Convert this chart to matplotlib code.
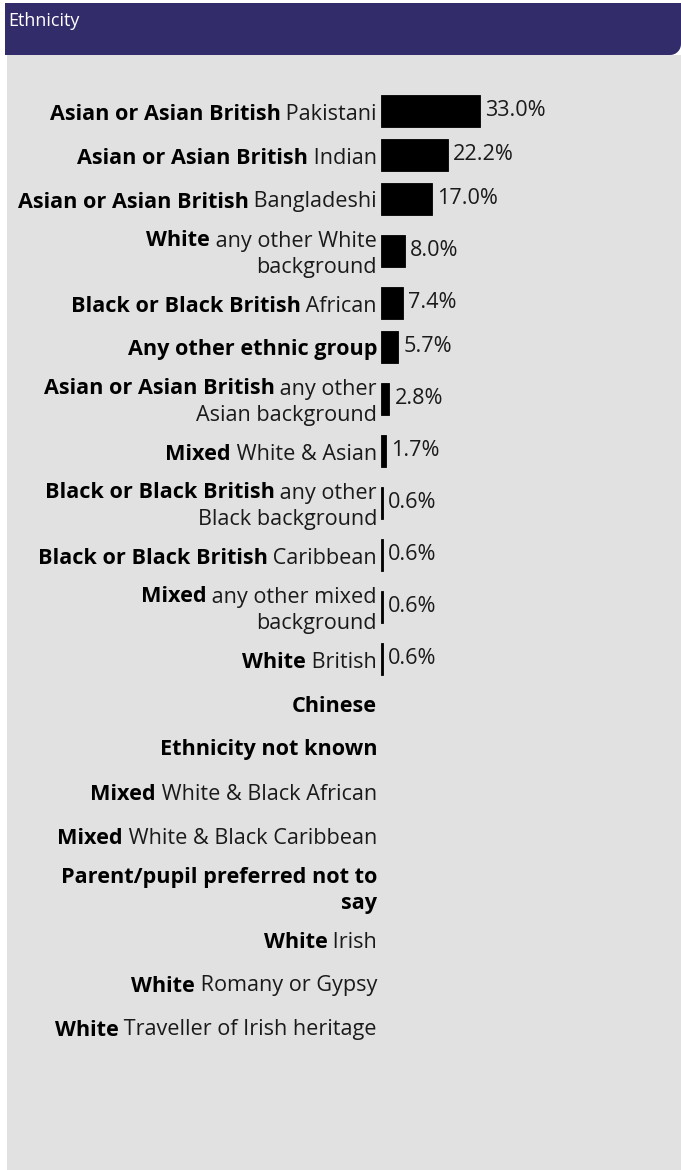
import numpy as np
import matplotlib
matplotlib.use("Agg")
import matplotlib.pyplot as plt
from matplotlib.patches import Rectangle, Polygon

plt.rcParams["font.family"] = ["Open Sans", "DejaVu Sans"]

# category labels: bold part, normal part ("\n" marks the wrap)
bold_parts = [
    "Asian or Asian British", "Asian or Asian British", "Asian or Asian British",
    "White", "Black or Black British", "Any other ethnic group",
    "Asian or Asian British", "Mixed", "Black or Black British",
    "Black or Black British", "Mixed", "White",
    "Chinese", "Ethnicity not known", "Mixed", "Mixed",
    "Parent/pupil preferred not to\nsay", "White", "White", "White",
]
normal_parts = [
    "Pakistani", "Indian", "Bangladeshi",
    "any other White\nbackground", "African", "",
    "any other\nAsian background", "White & Asian", "any other\nBlack background",
    "Caribbean", "any other mixed\nbackground", "British",
    "", "", "White & Black African", "White & Black Caribbean",
    "", "Irish", "Romany or Gypsy", "Traveller of Irish heritage",
]
values = [33.0, 22.2, 17.0, 8.0, 7.4, 5.7, 2.8, 1.7, 0.6, 0.6, 0.6, 0.6,
          None, None, None, None, None, None, None, None]

W, H = 681, 1170
fig = plt.figure(figsize=(W / 100, H / 100), dpi=100)
fig.patch.set_facecolor("white")

# background axes in pixel units
bg = fig.add_axes([0, 0, 1, 1])
bg.set_xlim(0, W)
bg.set_ylim(H, 0)
bg.axis("off")
bg.add_patch(Rectangle((6.5, 55), W, H, color="#e1e1e1", lw=0))

# header band with rounded bottom-right corner
r = 11
ang = np.linspace(0, np.pi / 2, 12)
corner = [(W - r + r * np.cos(a), 55 - r + r * np.sin(a)) for a in ang]
pts = [(5, 3), (W, 3)] + corner + [(5, 55)]
bg.add_patch(Polygon(pts, closed=True, color="#322c6b", lw=0))
bg.text(8, 21, "Ethnicity", color="white", fontsize=13, va="center", ha="left")

# bar axes: x in percent, y in pixels
left_px = 381
bx = fig.add_axes([left_px / W, 0, (W - left_px) / W, 1])
bx.set_xlim(0, (W - left_px) / 3.0)
bx.set_ylim(H, 0)
bx.axis("off")
bx.patch.set_alpha(0)

# row layout
centers = []
y = 89
for b, n in zip(bold_parts, normal_parts):
    nlines = max(b.count("\n"), n.count("\n")) + 1
    h = 44 if nlines == 1 else 60
    centers.append(y + h / 2)
    y += h

fs = 15.6
lab_x = 377
renderer = fig.canvas.get_renderer()
inv = bg.transData.inverted()

for b, n, v, c in zip(bold_parts, normal_parts, values, centers):
    if n:
        lines_n = n.split("\n")
        lines = [(b, lines_n[0])] + [("", t) for t in lines_n[1:]]
    else:
        lines = [(t, "") for t in b.split("\n")]
    k = len(lines)
    for i, (bt, nt) in enumerate(lines):
        ly = c + 3 + (i - (k - 1) / 2) * 26
        x_right = lab_x
        if nt:
            t = bg.text(lab_x, ly, (" " + nt) if bt else nt, fontsize=fs,
                        ha="right", va="center", color="#1a1a1a")
            ext = t.get_window_extent(renderer)
            x_right = inv.transform((ext.x0, 0))[0]
        if bt:
            bg.text(x_right, ly, bt, fontsize=fs, fontweight="bold",
                    ha="right", va="center", color="#000000")
    if v is not None:
        bx.barh(c, v, height=32, left=0, color="black",
                edgecolor="black", linewidth=0.6)
        bx.annotate(f"{v:.1f}%", (v, c), xytext=(5, 0),
                    textcoords="offset pixels", fontsize=fs,
                    ha="left", va="center", color="#1a1a1a")

fig.savefig("out.png", dpi=100)
